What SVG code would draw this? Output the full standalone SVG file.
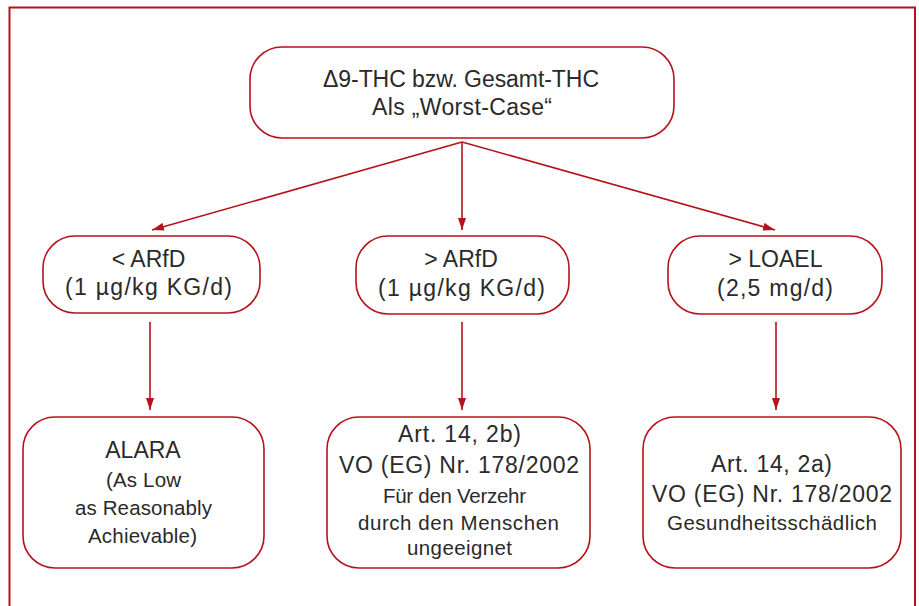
<svg xmlns="http://www.w3.org/2000/svg" width="919" height="606" viewBox="0 0 919 606">
<style>
.box{fill:#fff;stroke:#b5121b;stroke-width:1.6}
.frame{fill:none;stroke:#b5121b;stroke-width:2}
.t{font-family:"Liberation Sans",Arial,sans-serif;fill:#2a2a2a;text-anchor:middle}
.l{font-size:23px}
.s{font-size:20.5px}
.c{stroke:#b5121b;stroke-width:1.6;fill:none;marker-end:url(#ah)}
</style>
<defs>
<marker id="ah" viewBox="0 0 12 8" refX="12" refY="4" markerWidth="12" markerHeight="8" markerUnits="userSpaceOnUse" orient="auto">
<path d="M0,0 L12,4 L0,8 Z" fill="#b5121b"/>
</marker>
</defs>
<rect width="919" height="606" fill="#fff"/>
<path class="frame" d="M9.5,620 V7.5 H915 V620"/>
<g id="connectors">
<line class="c" x1="462" y1="142" x2="152" y2="230"/>
<line class="c" x1="462" y1="142" x2="462" y2="230"/>
<line class="c" x1="462" y1="142" x2="775" y2="230"/>
<line class="c" x1="150" y1="322" x2="150" y2="410"/>
<line class="c" x1="462" y1="322" x2="462" y2="410"/>
<line class="c" x1="776" y1="322" x2="776" y2="410"/>
</g>
<g id="top">
<rect class="box" x="250" y="47" width="424" height="91" rx="32"/>
<text class="t l" x="461" y="87" textLength="276" lengthAdjust="spacing">Δ9-THC bzw. Gesamt-THC</text>
<text class="t l" x="462" y="115" textLength="180" lengthAdjust="spacing">Als „Worst-Case“</text>
</g>
<g id="lt-arfd">
<rect class="box" x="43" y="236" width="217" height="77" rx="32"/>
<text class="t l" x="148.5" y="267">&lt; ARfD</text>
<text class="t l" x="148.5" y="295" textLength="167" lengthAdjust="spacing">(1 µg/kg KG/d)</text>
</g>
<g id="gt-arfd">
<rect class="box" x="356" y="236" width="213" height="78" rx="32"/>
<text class="t l" x="461" y="267">&gt; ARfD</text>
<text class="t l" x="461.5" y="296" textLength="167" lengthAdjust="spacing">(1 µg/kg KG/d)</text>
</g>
<g id="gt-loael">
<rect class="box" x="668" y="236" width="214" height="78" rx="32"/>
<text class="t l" x="775.5" y="267">&gt; LOAEL</text>
<text class="t l" x="775" y="296" textLength="116" lengthAdjust="spacing">(2,5 mg/d)</text>
</g>
<g id="alara">
<rect class="box" x="23" y="417" width="241" height="151" rx="32"/>
<text class="t l" x="143" y="458">ALARA</text>
<text class="t s" x="143.5" y="487" textLength="75" lengthAdjust="spacing">(As Low</text>
<text class="t s" x="143.5" y="515" textLength="137" lengthAdjust="spacing">as Reasonably</text>
<text class="t s" x="142.5" y="543" textLength="109" lengthAdjust="spacing">Achievable)</text>
</g>
<g id="art14-2b">
<rect class="box" x="327" y="417" width="263" height="151" rx="32"/>
<text class="t l" x="459.5" y="442" textLength="123" lengthAdjust="spacing">Art. 14, 2b)</text>
<text class="t l" x="459" y="473" textLength="240" lengthAdjust="spacing">VO (EG) Nr. 178/2002</text>
<text class="t s" x="454.5" y="503" textLength="143" lengthAdjust="spacing">Für den Verzehr</text>
<text class="t s" x="458.5" y="530" textLength="201" lengthAdjust="spacing">durch den Menschen</text>
<text class="t s" x="459.5" y="555" textLength="105" lengthAdjust="spacing">ungeeignet</text>
</g>
<g id="art14-2a">
<rect class="box" x="643" y="417" width="258" height="151" rx="32"/>
<text class="t l" x="771.5" y="472" textLength="121" lengthAdjust="spacing">Art. 14, 2a)</text>
<text class="t l" x="772" y="502" textLength="240" lengthAdjust="spacing">VO (EG) Nr. 178/2002</text>
<text class="t s" x="772" y="530" textLength="210" lengthAdjust="spacing">Gesundheitsschädlich</text>
</g>
</svg>
